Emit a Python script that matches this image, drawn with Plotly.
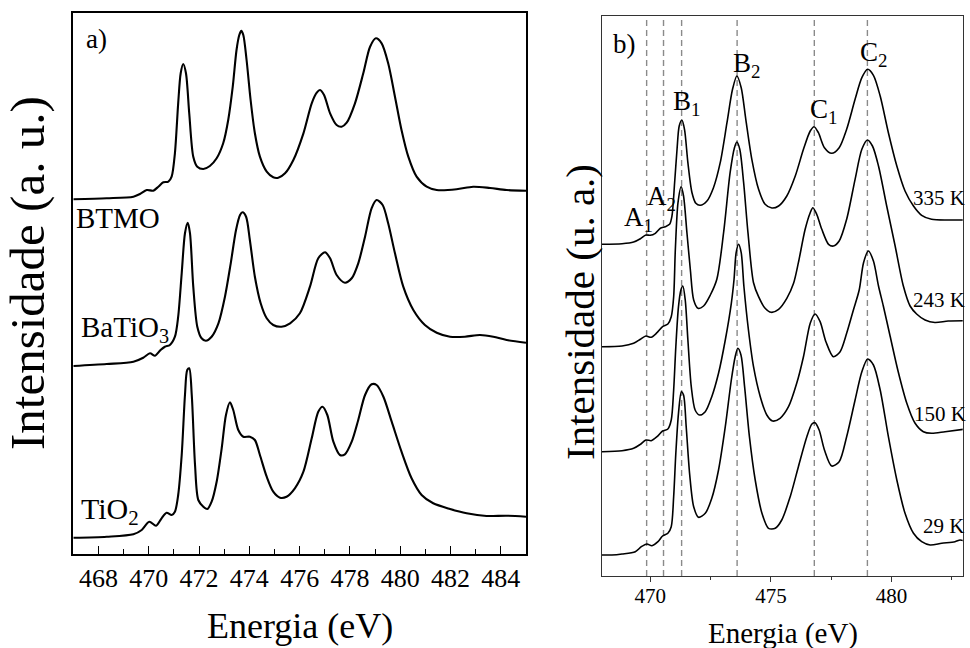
import plotly.graph_objects as go

# ---------------- data: panel a (Ti L-edge XAS of reference samples) ----------------
a_samples = ["BTMO", "BaTiO<sub>3</sub>", "TiO<sub>2</sub>"]

btmo_e = [467.0, 468.33, 469.39, 469.65, 469.92, 470.18, 470.38, 470.58, 470.78, 470.91,
          471.04, 471.17, 471.27, 471.37, 471.48, 471.61, 471.77, 471.93, 472.17, 472.43,
          472.70, 472.96, 473.16, 473.34, 473.49, 473.60, 473.68, 473.76, 473.89, 474.05,
          474.22, 474.42, 474.69, 474.95, 475.15, 475.42, 475.75, 476.15, 476.48, 476.68,
          476.81, 476.97, 477.21, 477.47, 477.67, 477.87, 478.20, 478.53, 478.80, 479.03,
          479.26, 479.52, 479.79, 480.05, 480.32, 480.65, 481.05, 481.45, 482.24, 482.90,
          483.57, 484.23, 485.0]
btmo_i = [354.7, 355.7, 357.3, 360.0, 364.0, 363.3, 367.3, 371.7, 372.3, 377.3,
          400.7, 450.7, 480.7, 490.0, 480.7, 440.7, 397.3, 387.3, 385.0, 388.0,
          395.7, 410.7, 434.0, 467.3, 504.0, 519.0, 523.3, 519.0, 494.0, 454.0,
          420.7, 397.3, 382.3, 376.7, 376.3, 380.7, 394.0, 420.7, 450.7, 461.3,
          464.0, 459.0, 440.7, 429.0, 427.3, 431.3, 450.7, 480.7, 507.3, 515.7,
          510.7, 490.7, 457.3, 424.0, 397.3, 377.3, 367.3, 364.0, 364.7, 367.3,
          366.0, 364.0, 363.3]

batio3_e = [467.0, 468.33, 469.39, 469.78, 470.05, 470.25, 470.47, 470.64, 470.84, 471.04,
            471.17, 471.31, 471.44, 471.55, 471.64, 471.77, 471.93, 472.10, 472.27, 472.50,
            472.77, 473.03, 473.26, 473.47, 473.63, 473.73, 473.87, 474.02, 474.22, 474.45,
            474.69, 474.95, 475.28, 475.62, 476.01, 476.41, 476.74, 477.01, 477.21, 477.47,
            477.80, 478.07, 478.33, 478.60, 478.86, 479.06, 479.30, 479.52, 479.79, 480.12,
            480.52, 480.98, 481.45, 481.98, 482.57, 483.17, 483.70, 484.23, 485.0]
batio3_i = [188.0, 190.0, 192.3, 196.3, 200.7, 198.3, 204.0, 207.3, 209.0, 217.3,
            237.3, 280.7, 320.7, 331.3, 320.7, 267.3, 227.3, 215.7, 213.3, 217.3,
            230.7, 257.3, 290.7, 324.0, 339.0, 341.7, 337.3, 314.0, 277.3, 250.7,
            235.7, 229.0, 227.3, 230.7, 240.7, 267.3, 295.7, 301.7, 295.7, 279.0,
            271.3, 275.7, 290.7, 317.3, 345.7, 354.0, 349.0, 330.7, 300.7, 267.3,
            244.0, 229.0, 221.3, 217.3, 217.3, 219.0, 217.3, 214.0, 211.3]

tio2_e = [467.0, 468.33, 469.39, 469.72, 470.02, 470.29, 470.51, 470.71, 470.91, 471.04,
          471.17, 471.31, 471.44, 471.53, 471.61, 471.71, 471.84, 471.97, 472.17, 472.33,
          472.50, 472.70, 472.90, 473.07, 473.23, 473.36, 473.56, 473.76, 474.02, 474.22,
          474.42, 474.69, 474.95, 475.22, 475.48, 475.81, 476.15, 476.48, 476.74, 476.91,
          477.10, 477.34, 477.60, 477.80, 478.07, 478.33, 478.60, 478.86, 479.06, 479.33,
          479.66, 480.05, 480.45, 480.85, 481.31, 481.98, 482.64, 483.43, 484.23, 485.0]
tio2_i = [16.3, 17.3, 19.7, 24.0, 32.3, 28.3, 35.7, 41.3, 39.0, 42.3,
          59.0, 99.0, 159.0, 184.0, 185.7, 159.0, 89.0, 54.0, 47.3, 45.0,
          52.3, 72.3, 105.7, 139.0, 151.7, 144.0, 124.0, 117.3, 117.3, 114.0,
          99.0, 77.3, 62.3, 56.3, 57.3, 65.7, 82.3, 115.7, 142.3, 147.3,
          139.0, 112.3, 99.0, 99.7, 112.3, 134.0, 159.0, 169.7, 169.0, 157.3,
          132.3, 102.3, 75.7, 59.0, 50.7, 45.0, 40.7, 38.0, 38.3, 37.3]

a_ticks = [468, 470, 472, 474, 476, 478, 480, 482, 484]

# ---------------- data: panel b (BTMO at several temperatures) ----------------
b_temps = ["335 K", "243 K", "150 K", "29 K"]
peak_names = ["A<sub>1</sub>", "A<sub>2</sub>", "B<sub>1</sub>", "B<sub>2</sub>", "C<sub>1</sub>", "C<sub>2</sub>"]
peak_energies = [469.85, 470.55, 471.3, 473.6, 476.8, 479.0]

t335_e = [468.0, 468.83, 469.31, 469.59, 469.82, 470.0, 470.21, 470.42, 470.62, 470.80,
          470.90, 471.01, 471.11, 471.20, 471.31, 471.42, 471.56, 471.73, 471.89, 472.07,
          472.35, 472.62, 472.90, 473.18, 473.41, 473.59, 473.77, 473.96, 474.21, 474.49,
          474.76, 475.04, 475.32, 475.66, 476.01, 476.35, 476.63, 476.79, 476.97, 477.22,
          477.52, 477.83, 478.14, 478.49, 478.77, 479.01, 479.25, 479.53, 479.87, 480.22,
          480.56, 480.91, 481.25, 481.66, 482.35, 482.99]
t335_i = [331.7, 332.3, 334.0, 337.3, 341.0, 340.7, 342.7, 347.7, 349.3, 351.7,
          360.0, 393.3, 426.7, 450.0, 456.0, 446.7, 413.3, 383.3, 372.7, 370.7,
          375.0, 388.3, 413.3, 453.3, 486.7, 500.0, 488.3, 456.7, 416.7, 386.7,
          371.7, 368.0, 370.0, 380.0, 400.0, 426.7, 445.0, 449.3, 443.3, 428.3,
          422.7, 428.3, 446.7, 476.7, 498.3, 506.7, 500.7, 480.0, 443.3, 410.0,
          385.0, 370.0, 360.7, 356.7, 356.0, 356.0]

t243_e = [468.0, 468.83, 469.31, 469.59, 469.82, 470.04, 470.28, 470.51, 470.73, 470.87,
          470.97, 471.04, 471.15, 471.28, 471.38, 471.52, 471.66, 471.80, 471.98, 472.21,
          472.49, 472.76, 473.04, 473.31, 473.49, 473.59, 473.71, 473.87, 474.05, 474.28,
          474.49, 474.76, 475.01, 475.32, 475.66, 475.94, 476.14, 476.42, 476.63, 476.74,
          476.90, 477.11, 477.39, 477.59, 477.83, 478.14, 478.49, 478.77, 479.0, 479.21,
          479.46, 479.80, 480.15, 480.49, 480.77, 481.04, 481.39, 481.80, 482.35, 482.99]
t243_i = [229.3, 230.0, 232.7, 236.7, 240.0, 238.7, 243.3, 249.3, 252.0, 259.3,
          279.3, 326.7, 373.3, 389.3, 380.0, 343.3, 306.7, 276.0, 267.7, 270.0,
          281.0, 296.7, 343.3, 403.3, 428.3, 434.0, 426.7, 393.3, 343.3, 293.3,
          279.3, 267.7, 263.7, 266.7, 277.7, 292.7, 313.3, 346.7, 363.3, 368.3,
          361.7, 346.7, 331.7, 330.0, 335.0, 356.7, 396.7, 426.7, 436.0, 430.0,
          410.0, 370.0, 330.0, 290.0, 270.0, 262.0, 256.0, 253.5, 255.0, 255.3]

t150_e = [468.0, 468.83, 469.31, 469.59, 469.82, 470.04, 470.28, 470.51, 470.73, 470.87,
          470.97, 471.06, 471.17, 471.27, 471.35, 471.45, 471.56, 471.70, 471.86, 472.04,
          472.28, 472.55, 472.83, 473.11, 473.36, 473.47, 473.56, 473.66, 473.77, 473.88,
          474.07, 474.28, 474.56, 474.83, 475.07, 475.38, 475.73, 476.07, 476.35, 476.63,
          476.83, 477.04, 477.28, 477.59, 477.87, 478.14, 478.42, 478.66, 478.84, 479.04,
          479.25, 479.46, 479.66, 479.94, 480.28, 480.63, 480.97, 481.32, 481.66, 482.22,
          482.99]
t150_i = [124.3, 125.3, 127.7, 131.7, 136.0, 135.3, 139.3, 145.0, 147.0, 156.0,
          186.0, 229.3, 269.3, 286.0, 290.0, 276.0, 236.0, 189.3, 166.0, 161.0,
          164.3, 179.3, 202.7, 236.0, 272.7, 296.0, 323.3, 331.7, 323.3, 290.0,
          246.0, 209.3, 179.3, 161.0, 155.0, 157.7, 169.3, 192.7, 219.3, 252.7,
          262.0, 254.3, 234.3, 219.3, 224.3, 242.7, 266.0, 286.0, 313.3, 325.0,
          315.0, 290.0, 270.0, 240.0, 204.0, 173.0, 153.0, 144.3, 142.7, 144.3,
          146.7]

t29_e = [468.0, 468.41, 468.83, 469.38, 469.63, 469.86, 470.07, 470.32, 470.51, 470.73,
         470.87, 470.97, 471.06, 471.17, 471.29, 471.38, 471.49, 471.63, 471.80, 472.0,
         472.28, 472.55, 472.83, 473.11, 473.36, 473.52, 473.63, 473.76, 473.91, 474.11,
         474.35, 474.63, 474.90, 475.18, 475.45, 475.80, 476.14, 476.49, 476.70, 476.83,
         477.0, 477.22, 477.52, 477.83, 478.14, 478.49, 478.77, 479.01, 479.25, 479.53,
         479.87, 480.22, 480.56, 480.91, 481.25, 481.60, 482.08, 482.63, 482.84, 482.99]
t29_i = [21.0, 21.0, 22.0, 24.3, 29.3, 32.0, 30.3, 34.3, 40.0, 42.7,
         49.3, 79.3, 122.7, 162.7, 184.3, 181.0, 149.3, 102.7, 69.3, 58.7,
         62.7, 77.7, 106.0, 149.3, 196.0, 219.3, 227.7, 221.0, 189.3, 139.3,
         96.0, 62.7, 47.7, 47.7, 56.0, 79.3, 109.3, 139.3, 152.0, 153.3,
         146.0, 126.0, 110.0, 114.3, 139.3, 176.0, 204.3, 217.0, 211.0, 186.0,
         139.3, 96.0, 62.7, 42.7, 34.3, 31.0, 32.7, 34.3, 36.0, 35.3]

b_ticks = [470, 475, 480]

# ---------------- figure ----------------
W, H = 970, 648
FONT = "Liberation Serif"


def P(x, y):
    return x / W, 1 - y / H


fig = go.Figure()

for e, i in [(btmo_e, btmo_i), (batio3_e, batio3_i), (tio2_e, tio2_i)]:
    fig.add_trace(go.Scatter(x=e, y=i, mode="lines", xaxis="x", yaxis="y",
                             line=dict(color="black", width=2.1, shape="spline", smoothing=0.8),
                             showlegend=False, hoverinfo="skip"))

for e, i in [(t335_e, t335_i), (t243_e, t243_i), (t150_e, t150_i), (t29_e, t29_i)]:
    fig.add_trace(go.Scatter(x=e, y=i, mode="lines", xaxis="x2", yaxis="y2",
                             line=dict(color="black", width=1.6, shape="spline", smoothing=0.8),
                             showlegend=False, hoverinfo="skip"))

# dashed reference lines in panel b
for pe in peak_energies:
    fig.add_shape(type="line", xref="x2", yref="y2 domain", x0=pe, x1=pe, y0=0, y1=1,
                  line=dict(color="#8a8a8a", width=1.4, dash="6px,4px"), layer="below")

ax_a = dict(showline=True, linecolor="black", linewidth=1.8, mirror=True,
            showgrid=False, zeroline=False)
fig.update_layout(
    width=W, height=H, margin=dict(l=0, r=0, t=0, b=0),
    paper_bgcolor="white", plot_bgcolor="white",
    font=dict(family=FONT, color="black", size=20),
    xaxis=dict(domain=[73.3 / W, 526 / W], range=[467, 485], tickvals=a_ticks,
               ticks="inside", ticklen=8, tickwidth=1.3, tickcolor="black",
               minor=dict(dtick=1, tick0=467, ticks="inside", ticklen=5, tickwidth=1.3, tickcolor="black"),
               tickfont=dict(size=26, family=FONT, color="black"), ticklabelstandoff=0, anchor="y", **ax_a),
    yaxis=dict(domain=[1 - 554 / H, 1 - 13.3 / H], range=[0, 540.7], showticklabels=False,
               ticks="", anchor="x", **ax_a),
    xaxis2=dict(domain=[602 / W, 962.7 / W], range=[468, 482.95], tickvals=b_ticks,
                ticks="outside", ticklen=5, tickwidth=1, tickcolor="#333",
                minor=dict(dtick=2.5, tick0=470, ticks="outside", ticklen=3, tickwidth=1, tickcolor="#333"),
                tickfont=dict(size=21, family=FONT, color="black"), ticklabelstandoff=-4, anchor="y2",
                showline=True, linecolor="#333", linewidth=1.2, mirror=True,
                showgrid=False, zeroline=False),
    yaxis2=dict(domain=[1 - 576 / H, 1 - 15.7 / H], range=[0, 560.3], showticklabels=False,
                ticks="", anchor="x2", showline=True, linecolor="#333", linewidth=1.2,
                mirror=True, showgrid=False, zeroline=False),
)

anns = []


def txt(text, x, y, size, xanchor="left", yanchor="middle", angle=0):
    px, py = P(x, y)
    anns.append(dict(text=text, x=px, y=py, xref="paper", yref="paper", showarrow=False,
                     xanchor=xanchor, yanchor=yanchor, textangle=angle,
                     font=dict(size=size, family=FONT, color="black")))


# panel a labels
txt("a)", 84, 39, 27)
txt(a_samples[0], 74, 218, 29)
txt(a_samples[1], 79, 329, 29)
txt(a_samples[2], 79, 511, 30)
txt("Energia (eV)", 300, 626, 36, xanchor="center")
txt("Intensidade (a. u.)", 27, 273, 49, xanchor="center", angle=-90)

# panel b labels
txt("b)", 611, 44, 27)
peak_label_pos = [(622, 219), (645, 198), (671, 103), (731, 65), (808, 111), (858, 54)]
for name, (lx, ly) in zip(peak_names, peak_label_pos):
    txt(name, lx, ly, 27)
temp_label_pos = [(911, 198), (911, 300), (912, 414), (921, 526)]
for name, (lx, ly) in zip(b_temps, temp_label_pos):
    txt(name, lx, ly, 21)
txt("Energia (eV)", 783, 633, 29, xanchor="center")
txt("Intensidade (u. a.)", 580, 312, 41, xanchor="center", angle=-90)

fig.update_layout(annotations=anns)

fig.write_html("out.html")
